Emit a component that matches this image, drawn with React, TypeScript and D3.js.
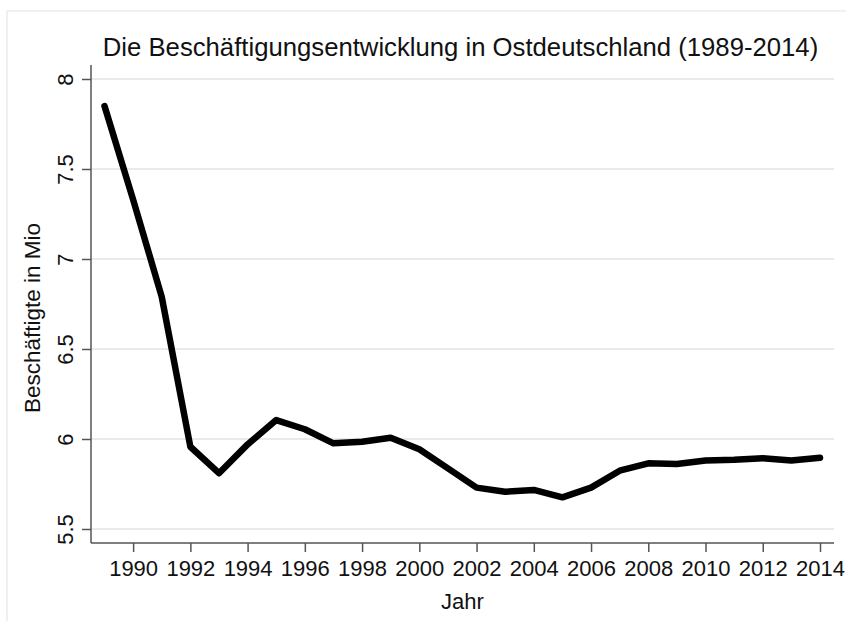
import React, { useEffect, useRef } from 'react';
import * as d3 from 'd3';

// Beschäftigte in Ostdeutschland (Mio)
const years = [
  1989, 1990, 1991, 1992, 1993, 1994, 1995, 1996, 1997, 1998, 1999, 2000, 2001,
  2002, 2003, 2004, 2005, 2006, 2007, 2008, 2009, 2010, 2011, 2012, 2013, 2014,
];
const employed = [
  7.85, 7.33, 6.79, 5.957, 5.81, 5.97, 6.105, 6.054, 5.976, 5.985, 6.007, 5.943, 5.837,
  5.73, 5.707, 5.717, 5.676, 5.73, 5.824, 5.865, 5.861, 5.881, 5.885, 5.893, 5.881, 5.896,
];
const yTicks = [5.5, 6, 6.5, 7, 7.5, 8];
const xTicks = d3.range(1990, 2015, 2);

const title = 'Die Beschäftigungsentwicklung in Ostdeutschland (1989-2014)';
const xTitle = 'Jahr';
const yTitle = 'Beschäftigte in Mio';

const LineChart: React.FC = () => {
  const svgRef = useRef<SVGSVGElement>(null);

  useEffect(() => {
    const width = 846;
    const height = 621;
    const font = 'Arial, "Liberation Sans", sans-serif';

    const svg = d3.select(svgRef.current)
      .attr('width', width)
      .attr('height', height);
    svg.selectAll('*').remove();

    // plot frame
    const left = 91;
    const right = 834;
    const top = 65;
    const bottom = 543;

    const x = d3.scaleLinear().domain([1989, 2014]).range([104.5, 820]);
    const y = d3.scaleLinear().domain([5.5, 8]).range([529, 79]);

    // outer border
    svg.append('rect')
      .attr('x', 7)
      .attr('y', 11)
      .attr('width', 860)
      .attr('height', 640)
      .attr('fill', 'none')
      .attr('stroke', '#ececec')
      .attr('stroke-width', 1.5);

    // gridlines
    svg.append('g')
      .selectAll('line')
      .data(yTicks)
      .enter()
      .append('line')
      .attr('x1', left)
      .attr('x2', right)
      .attr('y1', d => y(d))
      .attr('y2', d => y(d))
      .attr('stroke', '#eaeaea')
      .attr('stroke-width', 2);

    // y axis
    const yAxis = svg.append('g')
      .attr('transform', `translate(${left},0)`)
      .call(d3.axisLeft(y).tickValues(yTicks).tickSize(9).tickSizeOuter(0).tickFormat(d => String(d)));
    yAxis.select('.domain').remove();
    yAxis.selectAll('.tick line').attr('stroke', '#555').attr('stroke-width', 1.5);
    yAxis.selectAll('.tick text')
      .attr('transform', 'rotate(-90)')
      .attr('x', 0)
      .attr('y', -18)
      .attr('dy', 0)
      .attr('text-anchor', 'middle')
      .attr('fill', '#111')
      .style('font-family', font)
      .style('font-size', '22px');

    // x axis
    const xAxis = svg.append('g')
      .attr('transform', `translate(0,${bottom})`)
      .call(d3.axisBottom(x).tickValues(xTicks).tickSize(9).tickSizeOuter(0).tickFormat(d3.format('d')));
    xAxis.select('.domain').remove();
    xAxis.selectAll('.tick line').attr('stroke', '#555').attr('stroke-width', 1.5);
    xAxis.selectAll('.tick text')
      .attr('y', 33)
      .attr('dy', 0)
      .attr('fill', '#111')
      .style('font-family', font)
      .style('font-size', '22px');

    // axis lines
    svg.append('line')
      .attr('x1', left).attr('x2', left)
      .attr('y1', top).attr('y2', bottom)
      .attr('stroke', '#555').attr('stroke-width', 1.5);
    svg.append('line')
      .attr('x1', left).attr('x2', right)
      .attr('y1', bottom).attr('y2', bottom)
      .attr('stroke', '#555').attr('stroke-width', 1.5);

    // the series
    const line = d3.line<number>()
      .x((_, i) => x(years[i]))
      .y(d => y(d));

    svg.append('path')
      .datum(employed)
      .attr('d', line)
      .attr('fill', 'none')
      .attr('stroke', '#000')
      .attr('stroke-width', 6.5)
      .attr('stroke-linejoin', 'round')
      .attr('stroke-linecap', 'round');

    // titles
    svg.append('text')
      .attr('x', 460.5)
      .attr('y', 56)
      .attr('text-anchor', 'middle')
      .attr('fill', '#111')
      .style('font-family', font)
      .style('font-size', '25.7px')
      .text(title);

    svg.append('text')
      .attr('x', (left + right) / 2)
      .attr('y', 609)
      .attr('text-anchor', 'middle')
      .attr('fill', '#111')
      .style('font-family', font)
      .style('font-size', '22px')
      .text(xTitle);

    svg.append('text')
      .attr('transform', `translate(40,${y(6.75) + 14}) rotate(-90)`)
      .attr('text-anchor', 'middle')
      .attr('fill', '#111')
      .style('font-family', font)
      .style('font-size', '22.5px')
      .text(yTitle);
  }, []);

  return (
    <svg ref={svgRef} style={{ position: 'absolute', left: 0, top: 0, background: '#fff' }}></svg>
  );
};

const App: React.FC = () => {
  return (
    <div className="App">
      <LineChart />
    </div>
  );
};

export default App;
